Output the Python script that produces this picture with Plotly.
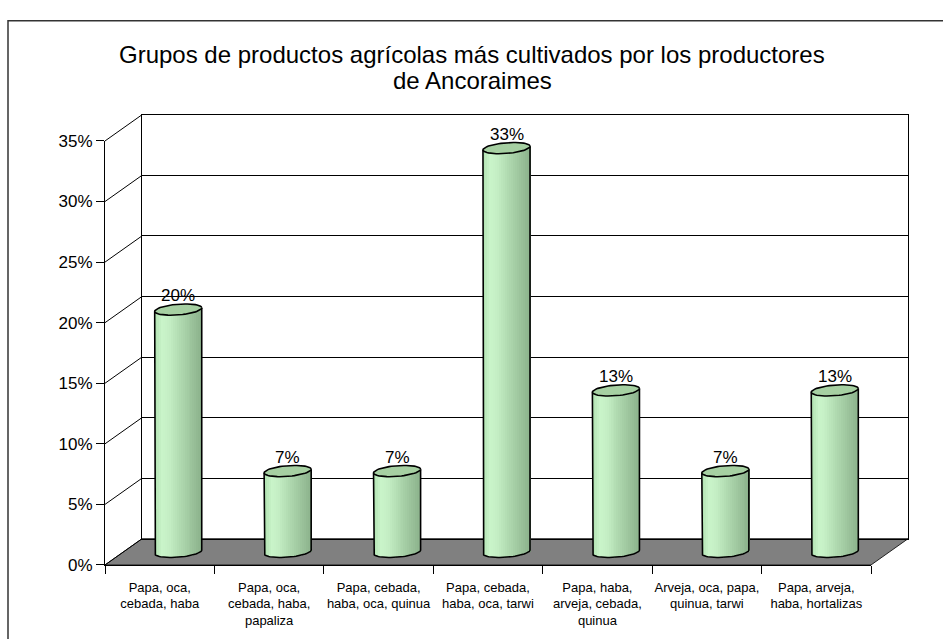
import numpy as np
import plotly.graph_objects as go

# ---------------- data ----------------
title_lines = ["Grupos de productos agrícolas más cultivados por los productores", "de Ancoraimes"]
categories = [
    "Papa, oca,<br>cebada, haba",
    "Papa, oca,<br>cebada, haba,<br>papaliza",
    "Papa, cebada,<br>haba, oca, quinua",
    "Papa, cebada,<br>haba, oca, tarwi",
    "Papa, haba,<br>arveja, cebada,<br>quinua",
    "Arveja, oca, papa,<br>quinua, tarwi",
    "Papa, arveja,<br>haba, hortalizas",
]
values = [20.0, 6.67, 6.67, 33.33, 13.33, 6.67, 13.33]
value_labels = ["20%", "7%", "7%", "33%", "13%", "7%", "13%"]
y_ticks = [0, 5, 10, 15, 20, 25, 30, 35]
y_tick_labels = ["0%", "5%", "10%", "15%", "20%", "25%", "30%", "35%"]
y_max = 35

# ---------------- geometry (pixels) ----------------
W, H = 943, 639
FX0, FX1, FY0, FY1 = 105, 871, 573, 136   # front frame
DX, DY = 37, -27                          # depth offset of back wall
scale = (FY0 - FY1) / y_max               # px per %
FONT = "Arial, Liberation Sans, sans-serif"


def px(x):
    return x / W


def py(y):
    return 1 - y / H


xs = list(range(len(categories)))
xr = [-0.5, len(categories) - 0.5]

fig = go.Figure()

fig.add_trace(go.Scatter(x=[0], y=[0], mode="markers", marker=dict(opacity=0),
                         hoverinfo="skip", showlegend=False, xaxis="x", yaxis="y"))
fig.add_trace(go.Scatter(x=[0], y=[0], mode="markers", marker=dict(opacity=0),
                         hoverinfo="skip", showlegend=False, xaxis="x3", yaxis="y3"))

# ---------------- cylinders (middle depth, x2y2) ----------------
bw = 0.43
a = bw / 2
b = 5.5 / scale
s = 0.15
n = 24
stops = [(-1.0, (178, 226, 178)), (-0.7, (202, 245, 202)), (-0.4, (196, 238, 196)),
         (0.0, (178, 220, 178)), (0.5, (158, 198, 158)), (1.0, (138, 176, 138))]


def grad(u):
    for (u0, c0), (u1, c1) in zip(stops[:-1], stops[1:]):
        if u0 <= u <= u1:
            f = (u - u0) / (u1 - u0)
            c = [int(round(c0[i] + f * (c1[i] - c0[i]))) for i in range(3)]
            return "rgb(%d,%d,%d)" % tuple(c)
    return "rgb(138,176,138)"


for k in range(n):
    u = -1 + (2 * k + 1) / n
    base = s * u - b * np.sqrt(1 - u * u)
    tops = [v + s * u for v in values]
    fig.add_trace(go.Bar(
        x=xs, y=[t - base for t in tops], base=base,
        width=bw / n * 1.1, offset=-a + k * bw / n,
        marker=dict(color=grad(u), line=dict(width=0)),
        hoverinfo="skip", showlegend=False, xaxis="x2", yaxis="y2"))

ox, oy = [], []
tb = np.linspace(np.pi, 2 * np.pi, 40)
for c, v in zip(xs, values):
    ox += [c - a, c - a]
    oy += [v - s, -s]
    ox += list(c + a * np.cos(tb))
    oy += list(s * np.cos(tb) + b * np.sin(tb))
    ox += [c + a, c + a, None]
    oy += [s, v + s, None]
fig.add_trace(go.Scatter(x=ox, y=oy, mode="lines", line=dict(color="black", width=1.6),
                         hoverinfo="skip", showlegend=False, xaxis="x2", yaxis="y2"))

ex, ey = [], []
tt = np.linspace(0, 2 * np.pi, 60)
for c, v in zip(xs, values):
    ex += list(c + a * np.cos(tt)) + [None]
    ey += list(v + s * np.cos(tt) + b * np.sin(tt)) + [None]
fig.add_trace(go.Scatter(x=ex, y=ey, mode="lines", fill="toself", fillcolor="rgb(166,208,162)",
                         line=dict(color="black", width=1.6),
                         hoverinfo="skip", showlegend=False, xaxis="x2", yaxis="y2"))

annotations = []
for c, v, t in zip(xs, values, value_labels):
    annotations.append(dict(x=c, y=v, xref="x2", yref="y2", text=t, showarrow=False,
                            yanchor="middle", yshift=14, font=dict(size=17, color="black", family=FONT)))

for line, yc in zip(title_lines, [47, 74]):
    annotations.append(dict(x=px(472), y=py(yc), xref="paper", yref="paper", text=line,
                            showarrow=False, xanchor="center", yanchor="middle",
                            font=dict(size=24, color="black", family=FONT)))

shapes = []
floor = "M %f %f L %f %f L %f %f L %f %f Z" % (
    px(FX0), py(FY0), px(FX1), py(FY0), px(FX1 + DX), py(FY0 + DY), px(FX0 + DX), py(FY0 + DY))
shapes.append(dict(type="path", path=floor, xref="paper", yref="paper",
                   fillcolor="#808080", line=dict(color="#222222", width=1), layer="below"))
for t in y_ticks:
    yf = FY0 - t * scale
    shapes.append(dict(type="line", xref="paper", yref="paper",
                       x0=px(FX0), y0=py(yf), x1=px(FX0 + DX), y1=py(yf + DY),
                       line=dict(color="black", width=1)))
shapes.append(dict(type="rect", xref="paper", yref="paper",
                   x0=px(8), y0=py(12), x1=px(960), y1=py(660),
                   line=dict(color="#333333", width=1.5), fillcolor="rgba(0,0,0,0)"))

mid_y0 = FY0 + DY / 2
mid_y1 = FY1 + DY / 2
y2_lo = -1.6
mid_bottom_px = mid_y0 - y2_lo * scale

fig.update_layout(
    width=W, height=H, autosize=False,
    margin=dict(l=0, r=0, t=0, b=0),
    paper_bgcolor="white", plot_bgcolor="rgba(0,0,0,0)",
    barmode="overlay", bargap=0,
    showlegend=False,
    font=dict(family=FONT, color="black"),
    shapes=shapes, annotations=annotations,
    xaxis=dict(domain=[px(FX0 + DX), px(FX1 + DX)], range=xr, anchor="y",
               showline=True, mirror=True, linecolor="black", linewidth=1,
               showticklabels=False, ticks="", showgrid=False, zeroline=False, fixedrange=True),
    yaxis=dict(domain=[py(FY0 + DY), py(FY1 + DY)], range=[0, y_max], anchor="x",
               tickmode="array", tickvals=y_ticks, showgrid=True, gridcolor="black", gridwidth=1,
               showline=True, mirror=True, linecolor="black", linewidth=1,
               showticklabels=False, ticks="", zeroline=False, fixedrange=True),
    xaxis2=dict(domain=[px(FX0 + DX / 2), px(FX1 + DX / 2)], range=xr, anchor="y2",
                visible=False, fixedrange=True),
    yaxis2=dict(domain=[py(mid_bottom_px), py(mid_y1)], range=[y2_lo, y_max], anchor="x2",
                visible=False, fixedrange=True),
    xaxis3=dict(domain=[px(FX0), px(FX1)], range=xr, anchor="y3",
                tickmode="array", tickvals=xs, ticktext=categories, ticks="",
                tickfont=dict(size=13, family=FONT, color="black"), ticklabelstandoff=10,
                showline=True, linecolor="black", linewidth=1, showgrid=False, zeroline=False,
                minor=dict(tickmode="array", tickvals=[x - 0.5 for x in xs] + [xs[-1] + 0.5],
                           ticks="outside", ticklen=8, tickcolor="black", tickwidth=1),
                fixedrange=True),
    yaxis3=dict(domain=[py(FY0), py(FY1)], range=[0, y_max], anchor="x3",
                tickmode="array", tickvals=y_ticks, ticktext=y_tick_labels, ticks="outside",
                ticklen=8, tickcolor="black", tickwidth=1,
                tickfont=dict(size=17, family=FONT, color="black"),
                showline=True, linecolor="black", linewidth=1, showgrid=False, zeroline=False,
                fixedrange=True),
)

fig.write_html("out.html", config={"displayModeBar": False},
               post_script="document.body.style.margin='0';document.body.style.overflow='hidden';")
